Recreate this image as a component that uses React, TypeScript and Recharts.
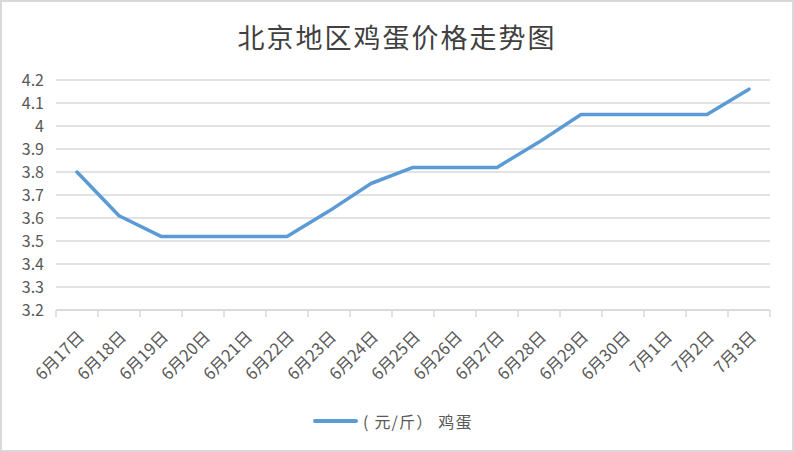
import React from 'react';
import { LineChart, Line, XAxis, YAxis, CartesianGrid } from 'recharts';

const dates = [
  '6月17日', '6月18日', '6月19日', '6月20日', '6月21日', '6月22日', '6月23日', '6月24日', '6月25日',
  '6月26日', '6月27日', '6月28日', '6月29日', '6月30日', '7月1日', '7月2日', '7月3日',
];
const eggPrices = [3.8, 3.61, 3.52, 3.52, 3.52, 3.52, 3.63, 3.75, 3.82, 3.82, 3.82, 3.93, 4.05, 4.05, 4.05, 4.05, 4.16];
const yTicks = [3.2, 3.3, 3.4, 3.5, 3.6, 3.7, 3.8, 3.9, 4, 4.1, 4.2];
const seriesName = '( 元/斤） 鸡蛋';
const title = '北京地区鸡蛋价格走势图';

const data = dates.map((d, i) => ({ date: d, price: eggPrices[i] }));

const W = 794;
const H = 452;
const margin = { top: 80, right: 24, bottom: 42, left: 0 };
const yAxisWidth = 56;
const band = (W - margin.left - margin.right - yAxisWidth) / dates.length;
const grey = '#d9d9d9';
const textColor = '#595959';
const lineColor = '#5b9bd5';
const font = '"Noto Sans CJK SC", "Noto Sans", sans-serif';

const DateTick = (props: any) => {
  const { x, y, payload, index } = props;
  const isLast = index === dates.length - 1;
  const axisY = y - 8;
  return (
    <g>
      <line x1={x - band / 2} y1={axisY} x2={x - band / 2} y2={axisY + 7} stroke={grey} strokeWidth={1.5} />
      {isLast && <line x1={x + band / 2} y1={axisY} x2={x + band / 2} y2={axisY + 7} stroke={grey} strokeWidth={1.5} />}
      <text
        transform={`translate(${x + 5},${y + 17}) rotate(-45)`}
        textAnchor="end"
        dominantBaseline="middle"
        fill={textColor}
        fontSize={16.5}
        fontFamily={font}
      >
        {payload.value}
      </text>
    </g>
  );
};

export default function App() {
  return (
    <div
      style={{
        position: 'absolute',
        top: 0,
        left: 0,
        width: W,
        height: H,
        border: `2px solid ${grey}`,
        boxSizing: 'border-box',
        background: '#fff',
        overflow: 'hidden',
      }}
    >
      <div
        style={{
          position: 'absolute',
          top: 15,
          left: 0,
          width: W - 4,
          textAlign: 'center',
          fontFamily: font,
          fontSize: 27,
          fontWeight: 400,
          color: '#404040',
          letterSpacing: 2,
        }}
      >
        {title}
      </div>
      <div style={{ position: 'absolute', top: -2, left: -2 }}>
        <LineChart width={W} height={H} data={data} margin={margin}>
          <CartesianGrid vertical={false} stroke={grey} strokeWidth={1.5} />
          <XAxis
            dataKey="date"
            interval={0}
            height={100}
            padding={{ left: band / 2, right: band / 2 }}
            tick={<DateTick />}
            tickLine={false}
            axisLine={{ stroke: grey, strokeWidth: 1.5 }}
            tickSize={6}
            tickMargin={2}
          />
          <YAxis
            width={yAxisWidth}
            domain={[3.2, 4.2]}
            ticks={yTicks}
            interval={0}
            tickLine={false}
            axisLine={false}
            tickMargin={6}
            tick={{ fill: textColor, fontSize: 16, fontFamily: font }}
            tickFormatter={(v) => String(v)}
          />
          <Line
            type="linear"
            dataKey="price"
            name={seriesName}
            stroke={lineColor}
            strokeWidth={3.5}
            strokeLinejoin="round"
            strokeLinecap="round"
            dot={false}
            isAnimationActive={false}
          />
        </LineChart>
      </div>
      <div
        style={{
          position: 'absolute',
          top: 407,
          left: 311,
          display: 'flex',
          alignItems: 'center',
          fontFamily: font,
          fontSize: 16,
          color: textColor,
          letterSpacing: 1.2,
        }}
      >
        <span style={{ display: 'inline-block', width: 45, height: 4, background: lineColor, borderRadius: 2, marginRight: 5 }} />
        <span>{seriesName}</span>
      </div>
    </div>
  );
}
